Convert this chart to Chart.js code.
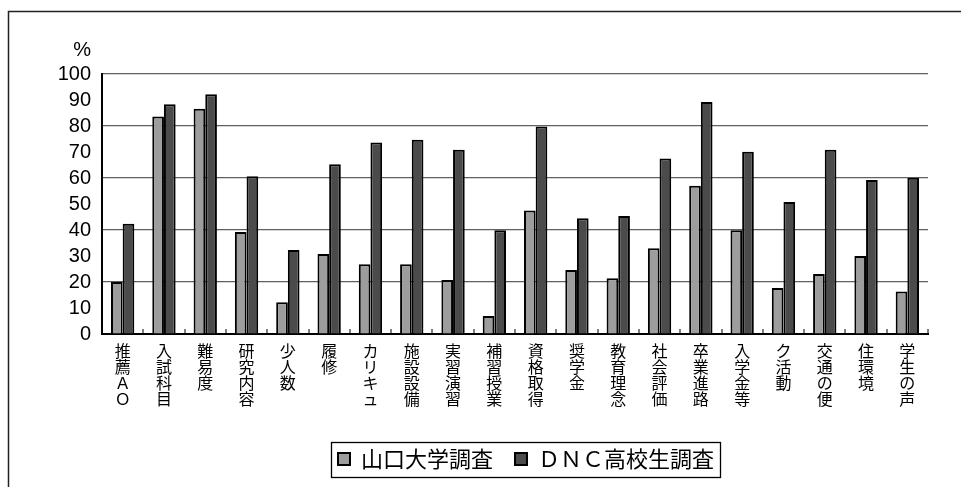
<!DOCTYPE html>
<html lang="ja">
<head>
<meta charset="utf-8">
<title>大学選択の重視項目</title>
<script src="https://cdn.jsdelivr.net/npm/chart.js@4/dist/chart.umd.min.js"></script>
<style>
  html, body { margin: 0; padding: 0; background: #fff; }
  #wrap { width: 961px; height: 487px; position: relative; }
</style>
</head>
<body>
<div id="wrap"><canvas id="c" width="961" height="487"></canvas></div>
<script>
// Categories (each label is drawn vertically, one character per line)
const categories = [
  '推薦ＡＯ', '入試科目', '難易度', '研究内容', '少人数', '履修', 'カリキュ',
  '施設設備', '実習演習', '補習授業', '資格取得', '奨学金', '教育理念',
  '社会評価', '卒業進路', '入学金等', 'ク活動', '交通の便', '住環境', '学生の声'
];

// Series values (%)
const yamaguchiSurvey = [20.0, 83.7, 86.6, 39.2, 12.2, 30.8, 26.8, 26.8, 20.8, 6.9,
                         47.5, 24.6, 21.4, 33.0, 57.0, 39.9, 17.7, 23.1, 30.0, 16.3];
const dncSurvey       = [42.4, 88.4, 92.2, 60.7, 32.3, 65.3, 73.7, 74.7, 70.9, 39.9,
                         79.8, 44.5, 45.4, 67.5, 89.2, 70.1, 50.8, 70.9, 59.2, 60.1];

const seriesNames = ['山口大学調査', 'ＤＮＣ高校生調査'];
const yTickValues = [0, 10, 20, 30, 40, 50, 60, 70, 80, 90, 100];
const yUnit = '%';

const verticalLabels = categories.map(s => Array.from(s));

// White page, outer frame, unit label and legend frame
const decorations = {
  id: 'decorations',
  beforeDraw(chart) {
    const ctx = chart.ctx;
    ctx.save();
    ctx.fillStyle = '#fff';
    ctx.fillRect(0, 0, chart.width, chart.height);
    ctx.strokeStyle = '#222';
    ctx.lineWidth = 1.5;
    ctx.strokeRect(8.5, 11.5, chart.width + 20, chart.height + 20);
    ctx.restore();
  },
  afterLayout(chart) {
    // shift the legend row so it sits under the plot centre
    const lg = chart.legend;
    if (lg) { lg.left = 124; lg.right = 928; }
  },
  afterDraw(chart) {
    const ctx = chart.ctx;
    const y = chart.scales.y;
    ctx.save();
    ctx.fillStyle = '#000';
    ctx.font = '20px "Liberation Sans", Arial, sans-serif';
    ctx.textAlign = 'right';
    ctx.textBaseline = 'middle';
    ctx.fillText(yUnit, y.right - 11, y.top - 24);

    const lg = chart.legend;
    if (lg && lg.legendHitBoxes && lg.legendHitBoxes.length) {
      const hb = lg.legendHitBoxes;
      const first = hb[0], last = hb[hb.length - 1];
      const cy = first.top + first.height / 2;
      ctx.strokeStyle = '#000';
      ctx.lineWidth = 1.3;
      ctx.strokeRect(Math.round(first.left - 7) + 0.5, Math.round(cy - 17.5) + 0.5,
                     Math.round(last.left + last.width - first.left + 13), 35);
    }
    ctx.restore();
  }
};

new Chart(document.getElementById('c'), {
  type: 'bar',
  data: {
    labels: verticalLabels,
    datasets: [
      {
        label: seriesNames[0],
        data: yamaguchiSurvey,
        backgroundColor: '#9d9d9d',
        borderColor: '#000',
        borderWidth: 2,
        categoryPercentage: 0.565,
        barPercentage: 1.0
      },
      {
        label: seriesNames[1],
        data: dncSurvey,
        backgroundColor: '#4b4b4b',
        borderColor: '#000',
        borderWidth: 2,
        categoryPercentage: 0.565,
        barPercentage: 1.0
      }
    ]
  },
  options: {
    responsive: false,
    animation: false,
    devicePixelRatio: 1,
    layout: { padding: { top: 74, right: 33, bottom: 7, left: 0 } },
    plugins: {
      legend: {
        position: 'bottom',
        labels: {
          boxWidth: 12,
          boxHeight: 12,
          padding: 22,
          color: '#000',
          font: { family: '"Noto Sans CJK JP", sans-serif', size: 22 }
        }
      },
      tooltip: { enabled: false }
    },
    scales: {
      x: {
        offset: true,
        grid: {
          offset: true,
          drawOnChartArea: true,
          color: (c) => (c.index === categories.length ? '#888' : 'rgba(0,0,0,0)'),
          lineWidth: 2,
          tickColor: '#000',
          tickWidth: 1,
          tickLength: -5
        },
        border: { display: true, color: '#000', width: 2 },
        ticks: {
          autoSkip: false,
          maxRotation: 0,
          minRotation: 0,
          padding: 14,
          color: '#000',
          font: { family: '"Noto Sans CJK JP", sans-serif', size: 16, lineHeight: 1 }
        },
        afterFit(scale) { scale.height = 92; }
      },
      y: {
        min: 0,
        max: 100,
        afterBuildTicks(scale) { scale.ticks = yTickValues.map(v => ({ value: v })); },
        grid: {
          drawTicks: false,
          color: (c) => (c.tick && c.tick.value > 0 && c.tick.value % 20 === 0 ? '#606060' : 'rgba(0,0,0,0)'),
          lineWidth: 1.2
        },
        border: { display: true, color: '#000', width: 2 },
        ticks: {
          autoSkip: false,
          padding: 11,
          color: '#000',
          font: { family: '"Liberation Sans", Arial, sans-serif', size: 20 }
        },
        afterFit(scale) { scale.width = 102; }
      }
    }
  },
  plugins: [decorations]
});
</script>
</body>
</html>
